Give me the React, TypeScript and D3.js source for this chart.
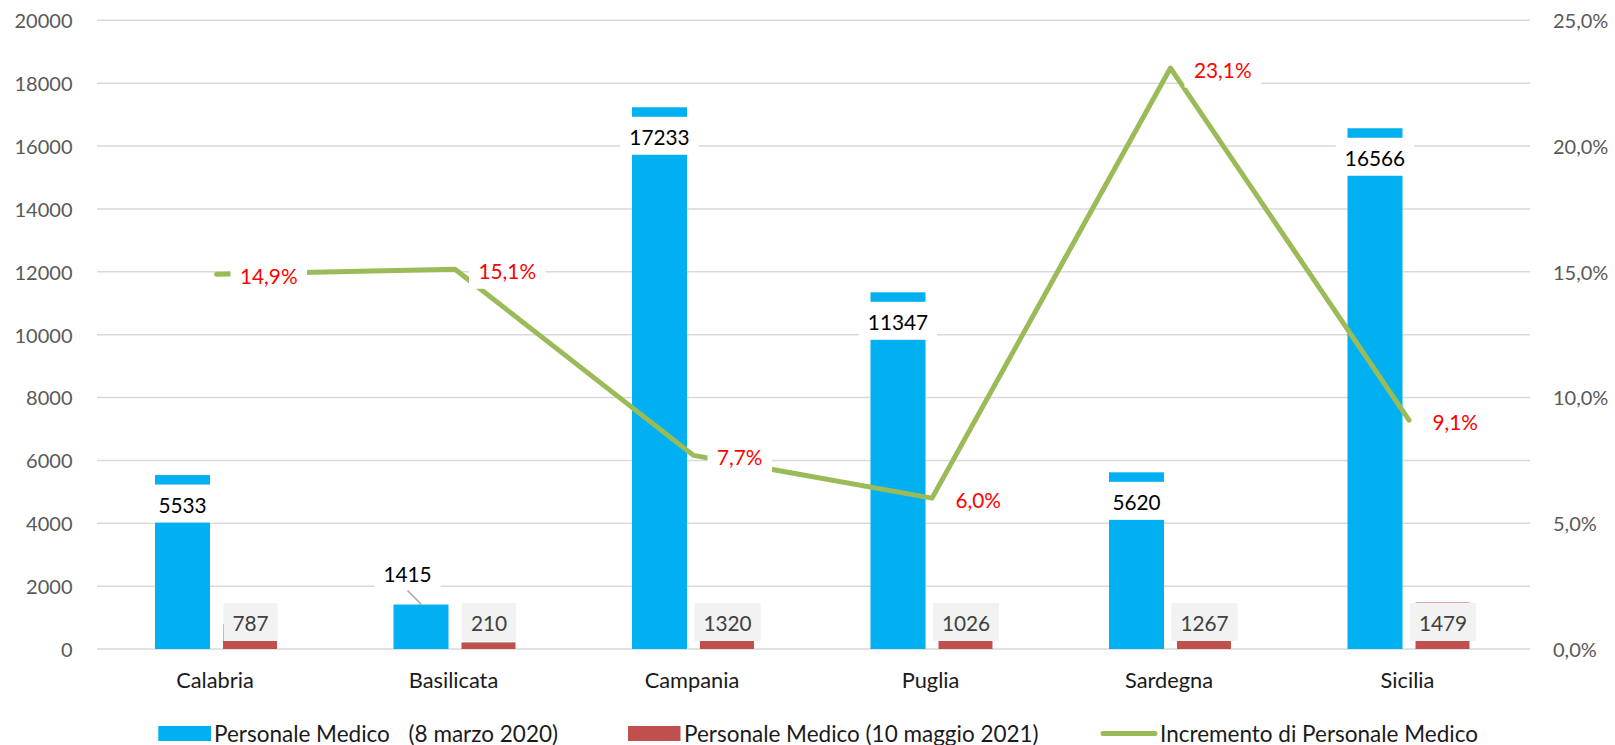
import React from "react";
import * as d3 from "d3";

const categories = ["Calabria", "Basilicata", "Campania", "Puglia", "Sardegna", "Sicilia"];
const medici2020 = [5533, 1415, 17233, 11347, 5620, 16566];
const medici2021 = [787, 210, 1320, 1026, 1267, 1479];
const incremento = [0.149, 0.151, 0.077, 0.06, 0.231, 0.091];
const leftTicks = [0, 2000, 4000, 6000, 8000, 10000, 12000, 14000, 16000, 18000, 20000];
const rightTicks = [0, 0.05, 0.1, 0.15, 0.2, 0.25];
const legendLabels = ["Personale Medico", "(8 marzo 2020)", "Personale Medico (10 maggio 2021)", "Incremento di Personale Medico"];

const W = 1615;
const H = 745;
const FONT = "Lato, 'Noto Sans', sans-serif";
const FS = 20;
const LFS = 20.8; // data labels
const CATFS = 21.8;
const LEGFS = 22.5;
const CAP = 0.36; // half cap height in em

const BLUE = "#00B0F0";
const RED = "#C0504D";
const GREEN = "#9BBB59";

let ctx: CanvasRenderingContext2D | null = null;
function measure(t: string, size = FS): number {
  if (!ctx) {
    const c = document.createElement("canvas");
    ctx = c.getContext("2d");
  }
  if (!ctx) return t.length * size * 0.55;
  ctx.font = `${size}px Lato`;
  return ctx.measureText(t).width;
}

const fmtPct = (v: number) => d3.format(".1f")(v * 100).replace(".", ",") + "%";

export default function App() {
  const x = d3.scaleBand<string>().domain(categories).range([97.25, 1528.25]).padding(0);
  const yL = d3.scaleLinear().domain([0, 20000]).range([649, 20.3]);
  const yR = d3.scaleLinear().domain([0, 0.25]).range([649, 20.3]);
  const barW = 55;
  const off = 34;
  const cx = (c: string) => (x(c) as number) + x.bandwidth() / 2;

  const linePts: [number, number][] = categories.map((c, i) => [cx(c), yR(incremento[i])]);
  const linePath = d3.line()(linePts) as string;
  const lcap = LFS * CAP;

  return (
    <svg width={W} height={H} style={{ position: "absolute", left: 0, top: 0, background: "#fff" }} fontFamily={FONT}>
      <rect x={0} y={0} width={W} height={H} fill="#fff" />
      {/* gridlines */}
      {leftTicks.map((t) => (
        <line key={t} x1={97} x2={1530} y1={yL(t)} y2={yL(t)} stroke="#D9D9D9" strokeWidth={1.5} />
      ))}
      {/* left ticks */}
      {leftTicks.map((t) => (
        <text key={"l" + t} x={72.5} y={yL(t) + 0.7 + FS * CAP} textAnchor="end" fontSize={FS} fill="#595959">
          {t}
        </text>
      ))}
      {/* right ticks */}
      {rightTicks.map((t) => (
        <text key={"r" + t} x={1553} y={yR(t) + 0.7 + FS * CAP} textAnchor="start" fontSize={FS} fill="#595959">
          {fmtPct(t)}
        </text>
      ))}
      {/* category labels */}
      {categories.map((c) => (
        <text key={"c" + c} x={cx(c) - 1.5} y={688.3} textAnchor="middle" fontSize={CATFS} fill="#1a1a1a">
          {c}
        </text>
      ))}
      {/* bars */}
      {categories.map((c, i) => (
        <rect key={"b" + c} x={cx(c) - off - barW / 2} width={barW} y={yL(medici2020[i])} height={yL(0) - yL(medici2020[i])} fill={BLUE} />
      ))}
      {categories.map((c, i) => (
        <rect key={"rb" + c} x={cx(c) + off - barW / 2} width={barW - 1} y={yL(medici2021[i])} height={yL(0) - yL(medici2021[i])} fill={RED} />
      ))}
      {/* line */}
      <path d={linePath} fill="none" stroke={GREEN} strokeWidth={5} strokeLinecap="round" strokeLinejoin="round" />
      {/* blue labels */}
      {categories.map((c, i) => {
        const v = medici2020[i];
        const t = String(v);
        const tw = measure(t, LFS);
        const bx = cx(c) - off;
        const top = yL(v);
        if (v < 3000) {
          const tcx = bx - 13.5;
          const tcy = top - 30;
          return (
            <g key={"bl" + c}>
              <line x1={tcx} y1={tcy + 16} x2={bx + 0.5} y2={top} stroke="#A6A6A6" strokeWidth={1.5} />
              <rect x={tcx - tw / 2 - 9} width={tw + 18} y={tcy - 2 - 19} height={36} fill="#fff" />
              <text x={tcx} y={tcy + lcap} textAnchor="middle" fontSize={LFS} fill="#000">{t}</text>
            </g>
          );
        }
        const tcy = top + 30.5;
        return (
          <g key={"bl" + c}>
            <rect x={bx - tw / 2 - 9} width={tw + 18} y={tcy - 2 - 19} height={38} fill="#fff" />
            <text x={bx} y={tcy + lcap} textAnchor="middle" fontSize={LFS} fill="#000">{t}</text>
          </g>
        );
      })}
      {/* red labels */}
      {categories.map((c, i) => {
        const t = String(medici2021[i]);
        const tw = measure(t, LFS);
        const bx = cx(c) + off;
        const tcy = yL(0) - 25.5;
        return (
          <g key={"rl" + c}>
            <rect x={bx - tw / 2 - 9} width={tw + 18} y={tcy - 1.5 - 19} height={38} fill="#F2F2F2" />
            <text x={bx} y={tcy + lcap} textAnchor="middle" fontSize={LFS} fill="#404040">{t}</text>
          </g>
        );
      })}
      {/* line labels */}
      {linePts.map(([px, py], i) => {
        const t = fmtPct(incremento[i]);
        const tw = measure(t, LFS);
        const tx = px + 23.5;
        const tcy = py + 2.5;
        return (
          <g key={"ll" + i}>
            <rect x={tx - 9.5} width={tw + 19} y={tcy - 2 - 19} height={38} fill="#fff" />
            <text x={tx} y={tcy + lcap} fontSize={LFS} fill="#FF0000">{t}</text>
          </g>
        );
      })}
      {/* legend */}
      <rect x={158.3} y={726} width={52.7} height={15} fill={BLUE} />
      <text x={214} y={741.5} fontSize={LEGFS} fill="#1a1a1a">{legendLabels[0]}</text>
      <text x={558} y={741.5} fontSize={LEGFS} fill="#1a1a1a" textAnchor="end">{legendLabels[1]}</text>
      <rect x={628} y={726} width={52.5} height={15} fill={RED} />
      <text x={684} y={741.5} fontSize={LEGFS} fill="#1a1a1a">{legendLabels[2]}</text>
      <line x1={1103} x2={1155} y1={733.5} y2={733.5} stroke={GREEN} strokeWidth={5} strokeLinecap="round" />
      <text x={1160} y={741.5} fontSize={LEGFS} fill="#1a1a1a">{legendLabels[3]}</text>
    </svg>
  );
}
